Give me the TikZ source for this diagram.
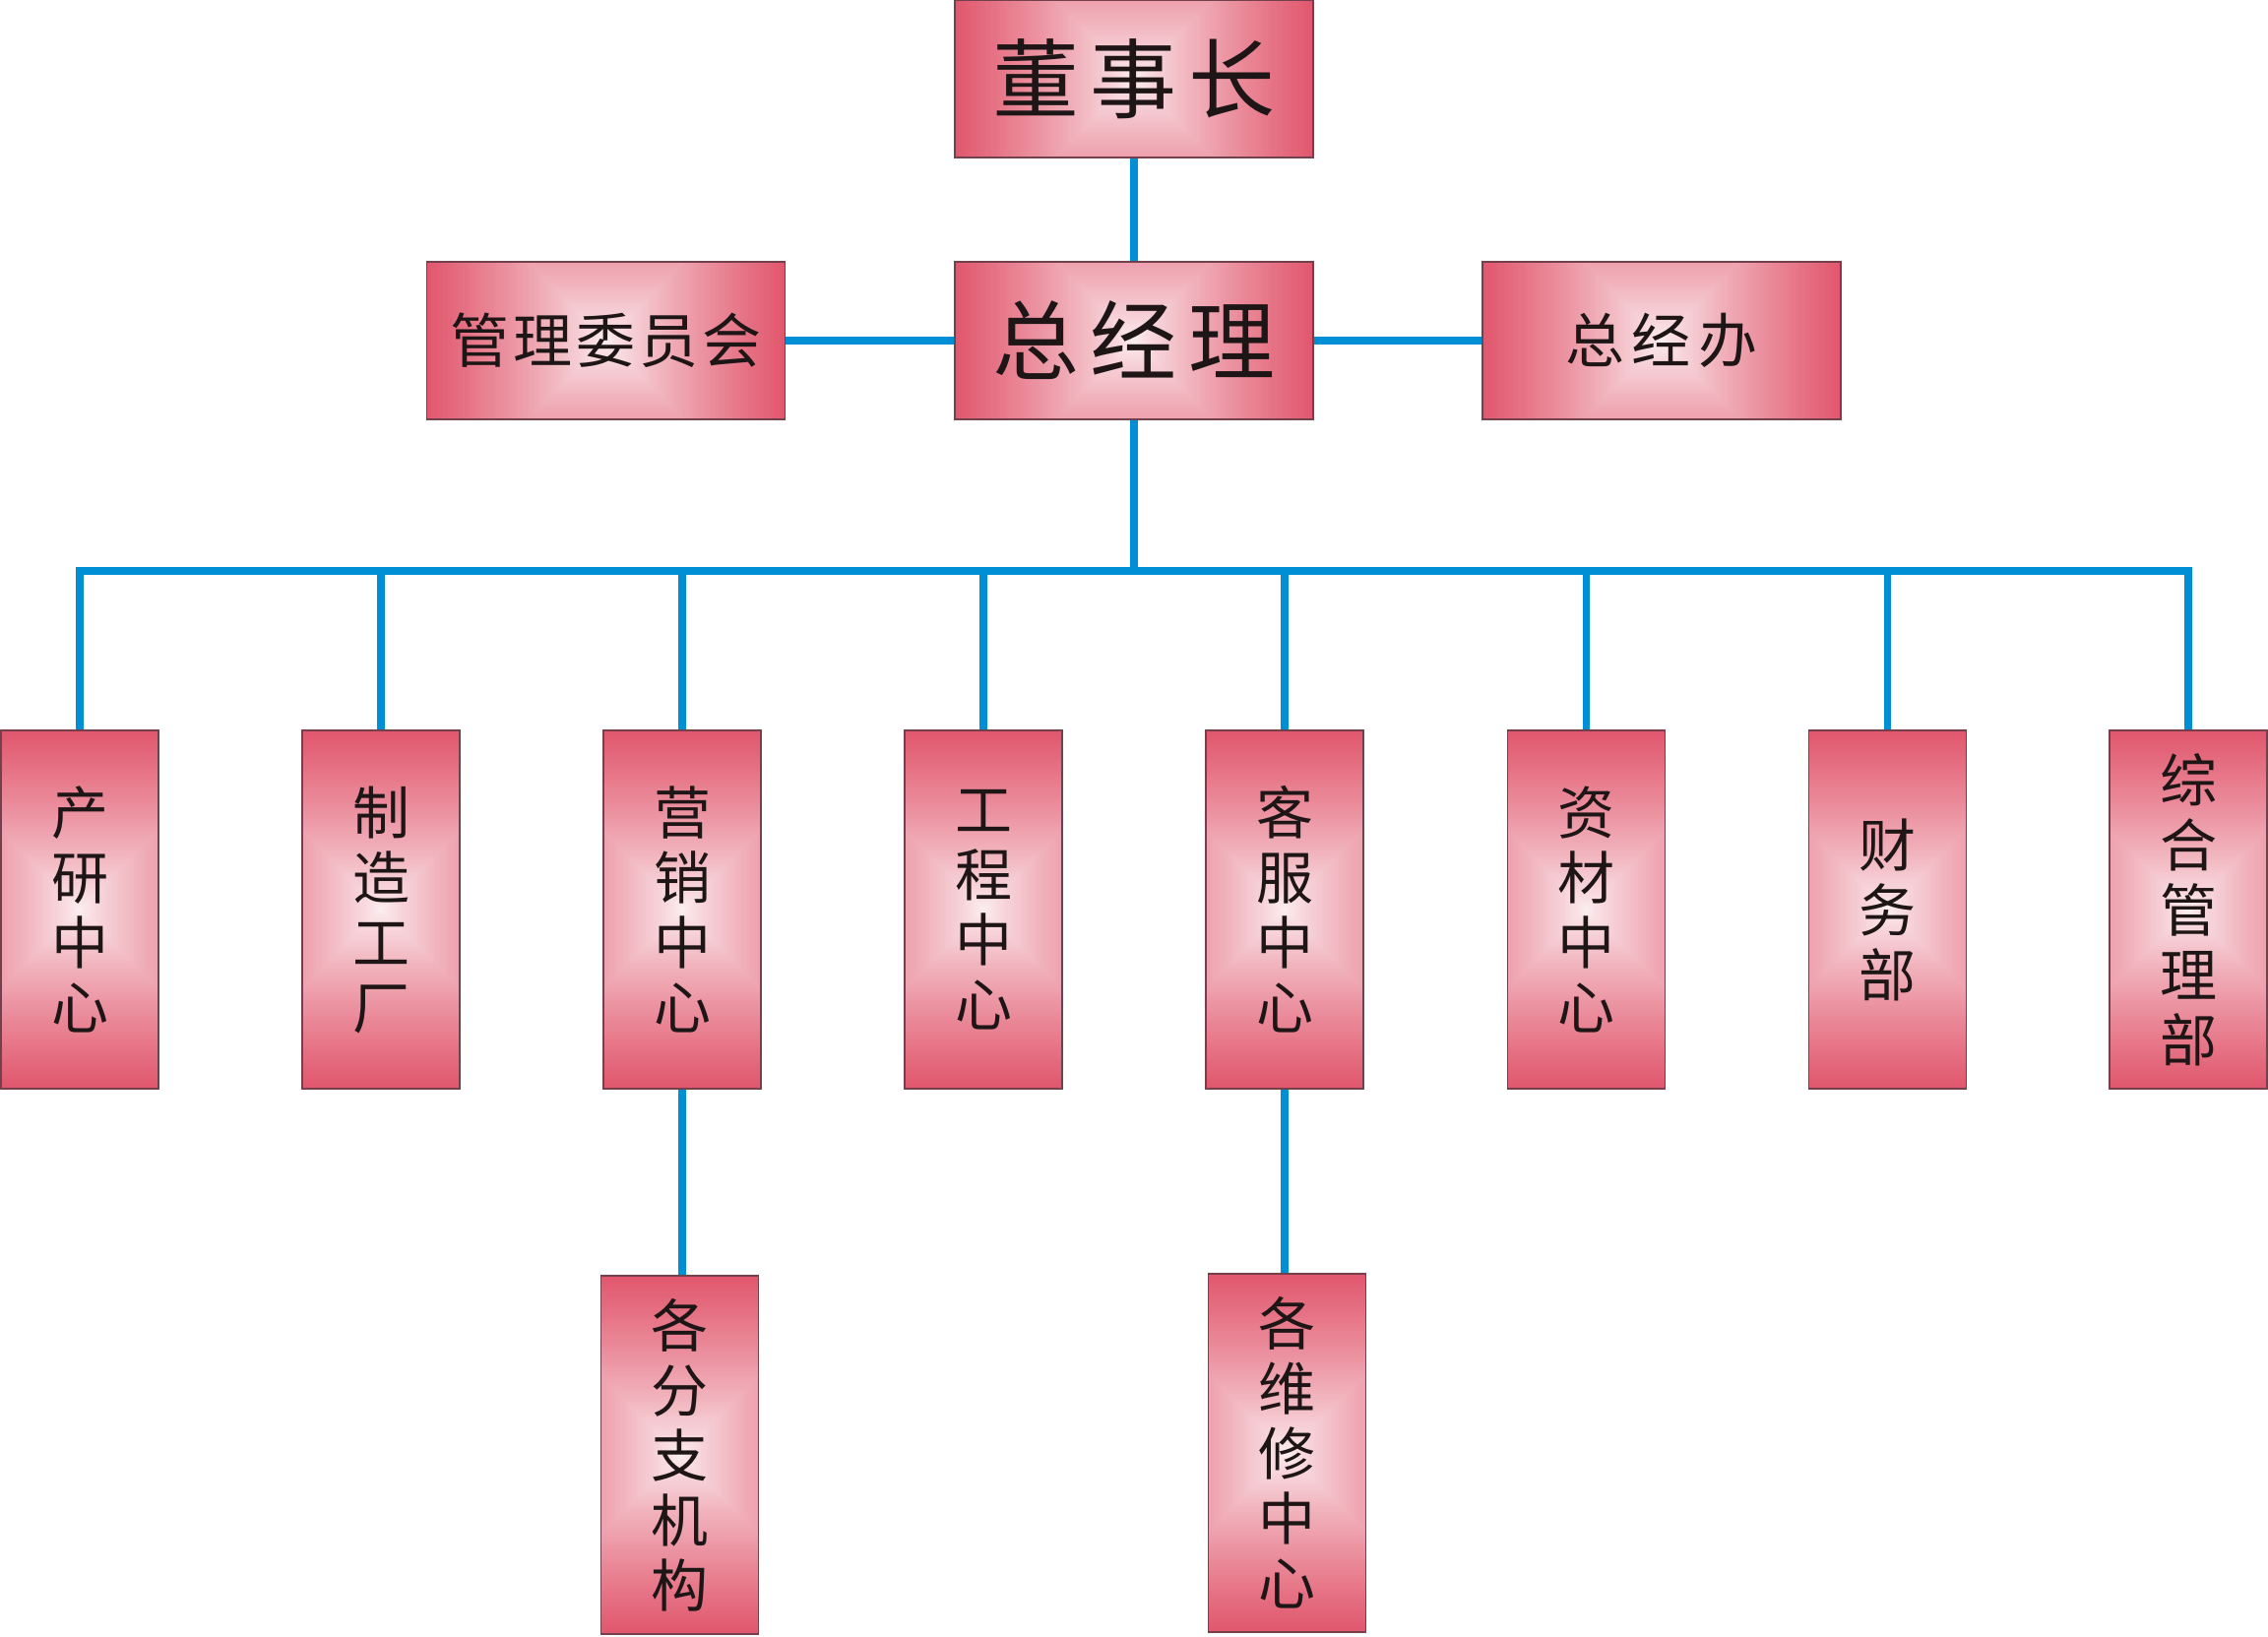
\documentclass[tikz,border=0pt]{standalone}
\usepackage{fontspec}
\setmainfont{Noto Sans CJK SC}
\definecolor{pkA}{RGB}{252,242,244}
\definecolor{pkE}{RGB}{225,86,108}
\definecolor{lineblue}{RGB}{0,143,213}
\definecolor{edgec}{RGB}{115,65,75}
\definecolor{txtc}{RGB}{30,22,22}
\tikzset{
  orgbox/.style={draw=edgec, line width=0.7pt, fill=pkE, inner sep=0pt, text=txtc,
    path picture={
      \pgfpointanchor{path picture bounding box}{center}\pgfgetlastxy\sqcx\sqcy
      \pgfpointanchor{path picture bounding box}{north east}\pgfgetlastxy\sqex\sqey
      \pgfmathsetmacro\sqRR{max(abs(\sqex-\sqcx),abs(\sqey-\sqcy))+1}
      \foreach \sqi in {0,...,69}{
        \pgfmathsetmacro\sqT{1-\sqi/70}
        \pgfmathsetmacro\sqW{100*(\sqT)^0.8}
        \pgfmathsetmacro\sqH{\sqT*\sqRR}
        \fill[pkE!\sqW!pkA] (\sqcx-\sqH pt,\sqcy-\sqH pt) rectangle (\sqcx+\sqH pt,\sqcy+\sqH pt);
      }
    }},
  hbig/.style={orgbox, minimum width=182pt, minimum height=80pt, font=\fontsize{44}{48}\selectfont},
  hsmall/.style={orgbox, minimum width=182pt, minimum height=80pt, font=\fontsize{30}{34}\selectfont},
  vbox/.style={orgbox, minimum width=80pt, minimum height=182pt, align=center, font=\fontsize{29}{33}\selectfont},
  conn/.style={draw=lineblue, line width=3.8pt}
}
\begin{document}
\begin{tikzpicture}[x=0.5pt,y=-0.5pt]
\useasboundingbox (0,0) rectangle (2304,1662);
% top levels
\node[hbig] (dsz) at (1152,80) {董\hspace{6pt}事\hspace{6pt}长};
\node[hbig] (zjl) at (1152,346) {总\hspace{6pt}经\hspace{6pt}理};
\node[hsmall] (glw) at (615.5,346) {管\hspace{2pt}理\hspace{2pt}委\hspace{2pt}员\hspace{2pt}会};
\node[hsmall] (zjb) at (1688,346) {总\hspace{4pt}经\hspace{4pt}办};
% departments
\node[vbox] (c1) at (81,924) {产\\研\\中\\心};
\node[vbox] (c2) at (387,924) {制\\造\\工\\厂};
\node[vbox] (c3) at (693,924) {营\\销\\中\\心};
\node[vbox] (c4) at (999,924) {工\\程\\中\\心};
\node[vbox] (c5) at (1305,924) {客\\服\\中\\心};
\node[vbox] (c6) at (1611.5,924) {资\\材\\中\\心};
\node[vbox] (c7) at (1917.5,924) {财\\务\\部};
\node[vbox] (c8) at (2223,924) {综\\合\\管\\理\\部};
% sub units
\node[vbox] (fz) at (690.5,1478) {各\\分\\支\\机\\构};
\node[vbox] (wx) at (1307.5,1476) {各\\维\\修\\中\\心};
% connectors
\coordinate (bus) at (1152,580);
\draw[conn] (dsz) -- (zjl);
\draw[conn] (glw) -- (zjl);
\draw[conn] (zjl) -- (zjb);
\draw[conn] (zjl.south) -- (bus);
\draw[conn] (c1.north) |- (bus) -| (c8.north);
\foreach \c in {c2,c3,c4,c5,c6,c7}{
  \draw[conn] (\c.north) -- (\c.north |- bus);
}
\draw[conn] (c3.south) -- (c3.south |- fz.north);
\draw[conn] (c5.south) -- (c5.south |- wx.north);
\end{tikzpicture}
\end{document}
